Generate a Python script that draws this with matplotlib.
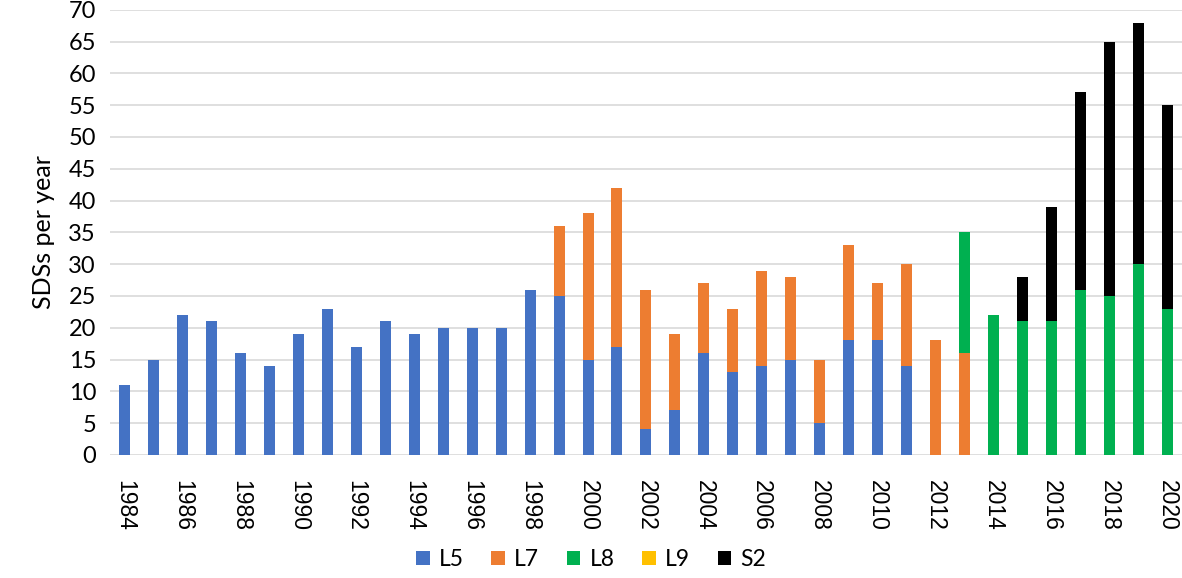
import numpy as np
import matplotlib
matplotlib.use("Agg")
import matplotlib.pyplot as plt

years = list(range(1984, 2021))
l5 = [11, 15, 22, 21, 16, 14, 19, 23, 17, 21, 19, 20, 20, 20, 26,
      25, 15, 17, 4, 7, 16, 13, 14, 15, 5, 18, 18, 14,
      0, 0, 0, 0, 0, 0, 0, 0, 0]
l7 = [0] * 15 + [11, 23, 25, 22, 12, 11, 10, 15, 13, 10, 15, 9, 16,
                 18, 16, 0, 0, 0, 0, 0, 0, 0]
l8 = [0] * 29 + [19, 22, 21, 21, 26, 25, 30, 23]
l9 = [0] * 37
s2 = [0] * 31 + [7, 18, 31, 40, 38, 32]

series = [("L5", l5, "#4472c4"), ("L7", l7, "#ed7d31"), ("L8", l8, "#00b050"),
          ("L9", l9, "#ffc000"), ("S2", s2, "#000000")]

plt.rcParams['font.family'] = ['Lato', 'DejaVu Sans']

fig = plt.figure(figsize=(11.82, 5.78), dpi=100)
ax = fig.add_axes([0.093, 0.213, 0.907, 0.770])

x = np.array(years)
bottom = np.zeros(len(years))
for name, vals, color in series:
    ax.bar(x, vals, width=0.38, bottom=bottom, color=color, label=name, zorder=3)
    bottom += np.array(vals)

ax.set_xlim(years[0] - 0.5, years[-1] + 0.5)
ax.set_ylim(0, 70)
ax.set_yticks(range(0, 71, 5))
ax.set_xticks(years[::2])
ax.set_xticklabels([str(y) for y in years[::2]], rotation=-90,
                   family=['Liberation Sans'], fontsize=16.5)
ax.tick_params(axis='y', labelsize=17, length=0, pad=10)
ax.tick_params(axis='x', length=0, pad=18)
ax.yaxis.grid(True, color="#d9d9d9", linewidth=1.2, zorder=0)
for s in ax.spines.values():
    s.set_visible(False)
ax.set_ylabel("SDSs per year", fontsize=18, labelpad=10)

handles, labels = ax.get_legend_handles_labels()
fig.legend(handles, labels, loc="lower center", bbox_to_anchor=(0.5, -0.022),
           ncol=5, frameon=False, fontsize=16.5, handlelength=0.6, handleheight=0.6,
           columnspacing=1.2, handletextpad=0.4)

fig.savefig("out.png", dpi=100)
